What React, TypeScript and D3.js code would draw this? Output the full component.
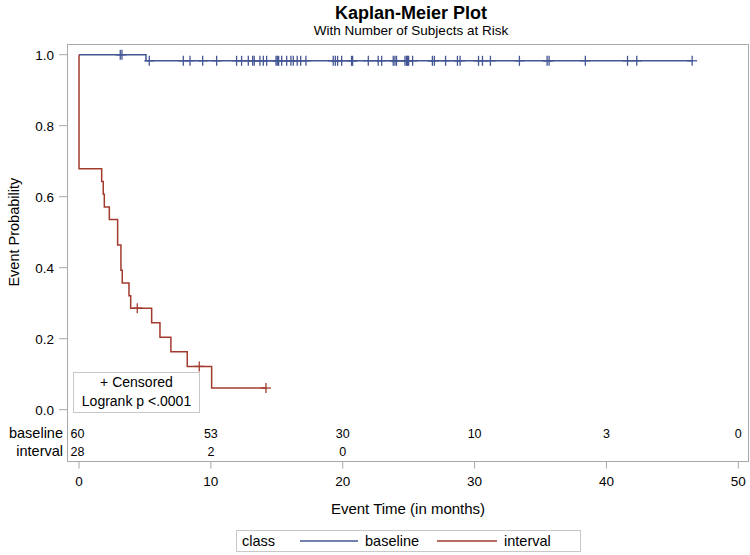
import React from 'react';
import * as d3 from 'd3';

const xTicks = [0, 10, 20, 30, 40, 50];
const yTicks = [0, 0.2, 0.4, 0.6, 0.8, 1.0];

const baselineTimes = [0, 5.08];
const baselineSurv = [1.0, 0.9828];
const baselineEnd = 46.5;
const baselineCensor = [
  3.13, 3.26, 5.33, 7.91, 8.42, 9.38, 10.44, 11.95, 12.33, 12.84, 13.17, 13.29, 13.72, 13.98,
  14.23, 14.94, 15.04, 15.14, 15.37, 15.75, 16.07, 16.25, 16.55, 16.81, 17.21, 19.28, 19.44,
  19.61, 19.92, 20.67, 20.75, 21.94, 22.69, 22.95, 23.83, 23.96, 24.08, 24.72, 24.84, 24.88,
  24.92, 25.0, 25.3, 26.8, 26.95, 27.8, 28.7, 28.9, 30.3, 30.6, 31.2, 33.4, 35.5, 35.65, 38.4,
  41.6, 42.3, 46.5,
];

const intervalTimes = [0, 0, 1.72, 1.84, 1.92, 2.3, 2.93, 3.18, 3.28, 3.79, 3.92, 5.51, 6.14, 6.97, 8.21, 10.06];
const intervalSurv = [1.0, 0.679, 0.643, 0.607, 0.571, 0.536, 0.464, 0.393, 0.357, 0.321, 0.286, 0.245, 0.204, 0.163, 0.122, 0.061];
const intervalEnd = 14.18;
const intervalCensor = [4.42, 9.12, 14.18];

const riskGroups = ['baseline', 'interval'];
const riskTimes = [0, 10, 20, 30, 40, 50];
const baselineRisk = [60, 53, 30, 10, 3, 0];
const intervalRisk = [28, 2, 0];

const C_BASE = '#445694';
const C_INT = '#A23A2E';
const FONT = '"Liberation Sans", Arial, Helvetica, sans-serif';
const AXIS = '#a8a8a8';

export default function App() {
  const x = d3.scaleLinear().domain([0, 50]).range([79, 738.3]);
  const y = d3.scaleLinear().domain([0, 1]).range([409.7, 54.7]);

  const line = d3
    .line<[number, number]>()
    .x((d) => x(d[0]))
    .y((d) => y(d[1]))
    .curve(d3.curveStepAfter);

  const pts = (times: number[], surv: number[], end: number): [number, number][] => {
    const p: [number, number][] = times.map((t, i) => [t, surv[i]]);
    p.push([end, surv[surv.length - 1]]);
    return p;
  };
  const survAt = (times: number[], surv: number[], t: number) => {
    const i = d3.bisectRight(times, t) - 1;
    return surv[Math.max(0, i)];
  };

  const series = [
    { times: baselineTimes, surv: baselineSurv, end: baselineEnd, censor: baselineCensor, color: C_BASE },
    { times: intervalTimes, surv: intervalSurv, end: intervalEnd, censor: intervalCensor, color: C_INT },
  ];
  const risks = [baselineRisk, intervalRisk];

  const left = 67.5, top = 44.5, right = 748.5, bottom = 461.5;
  const cx = (left + right) / 2;

  return (
    <svg
      width={750}
      height={555}
      style={{ position: 'absolute', left: 0, top: 0, background: '#fff' }}
      fontFamily={FONT}
    >
      <rect x={0} y={0} width={750} height={555} fill="#fff" />
      <text x={411} y={19} textAnchor="middle" fontSize={18} fontWeight="bold" fill="#000">
        Kaplan-Meier Plot
      </text>
      <text x={411} y={35} textAnchor="middle" fontSize={13.5} fill="#000">
        With Number of Subjects at Risk
      </text>

      {/* frame */}
      <rect x={left} y={top} width={right - left} height={bottom - top} fill="none" stroke={AXIS} strokeWidth={1} />

      {/* y axis */}
      {yTicks.map((t) => (
        <g key={'y' + t}>
          <line x1={59} x2={left} y1={y(t)} y2={y(t)} stroke={AXIS} />
          <text x={54} y={y(t)} dy="0.36em" textAnchor="end" fontSize={13.5} fill="#000">
            {t.toFixed(1)}
          </text>
        </g>
      ))}
      <text
        transform={`translate(14,${y(0.5)}) rotate(-90)`}
        textAnchor="middle"
        dy="0.36em"
        fontSize={14.5}
        fill="#000"
      >
        Event Probability
      </text>

      {/* x axis */}
      {xTicks.map((t) => (
        <g key={'x' + t}>
          <line x1={x(t)} x2={x(t)} y1={bottom} y2={bottom + 7} stroke={AXIS} />
          <text x={x(t)} y={486} textAnchor="middle" fontSize={13.5} fill="#000">
            {t}
          </text>
        </g>
      ))}
      <text x={cx} y={514} textAnchor="middle" fontSize={15} fill="#000">
        Event Time (in months)
      </text>

      {/* curves */}
      {series.map((s, i) => (
        <g key={'s' + i}>
          <path d={line(pts(s.times, s.surv, s.end)) || ''} fill="none" stroke={s.color} strokeWidth={1.5} />
          {s.censor.map((c, j) => {
            const px = x(c);
            const py = y(survAt(s.times, s.surv, c));
            return (
              <g key={j} stroke={s.color} strokeWidth={1.3}>
                <line x1={px} x2={px} y1={py - 5} y2={py + 5} />
                <line x1={px - 5} x2={px + 5} y1={py} y2={py} />
              </g>
            );
          })}
        </g>
      ))}

      {/* inset */}
      <rect x={73.5} y={372.5} width={126} height={40} fill="#fff" stroke="#c8c8c8" />
      <text x={136.5} y={387} textAnchor="middle" fontSize={14} fill="#000">
        + Censored
      </text>
      <text x={136.5} y={406} textAnchor="middle" fontSize={14} fill="#000">
        Logrank p &lt;.0001
      </text>

      {/* at risk */}
      {riskGroups.map((g, gi) => {
        const yy = gi === 0 ? 433 : 451;
        return (
          <g key={g}>
            <text x={63} y={yy} dy="0.36em" textAnchor="end" fontSize={14.5} fill="#000">
              {g}
            </text>
            {risks[gi].map((v, k) => (
              <text key={k} x={x(riskTimes[k]) - (k === 0 ? 1.5 : 0)} y={yy} dy="0.36em" textAnchor="middle" fontSize={12.5} fill="#000">
                {v}
              </text>
            ))}
          </g>
        );
      })}

      {/* legend */}
      <rect x={236.5} y={530.5} width={344} height={21} fill="#fff" stroke="#c8c8c8" />
      <text x={242} y={541} dy="0.36em" fontSize={14.5} fill="#000">
        class
      </text>
      <line x1={300} x2={358} y1={541} y2={541} stroke={C_BASE} strokeWidth={1.5} />
      <text x={365} y={541} dy="0.36em" fontSize={14.5} fill="#000">
        baseline
      </text>
      <line x1={437} x2={497} y1={541} y2={541} stroke={C_INT} strokeWidth={1.5} />
      <text x={504} y={541} dy="0.36em" fontSize={14.5} fill="#000">
        interval
      </text>
    </svg>
  );
}
